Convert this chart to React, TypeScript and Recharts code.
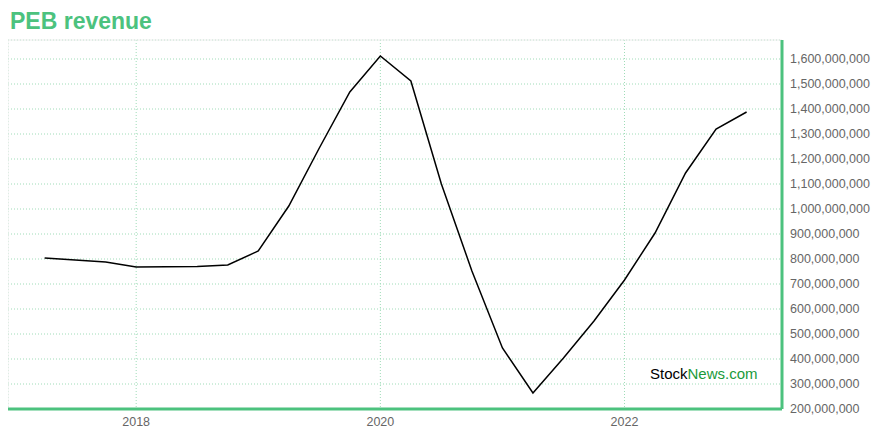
import React from 'react';
import { LineChart, Line, XAxis, YAxis, CartesianGrid, ReferenceArea } from 'recharts';

// quarter ends, as fractional years
const quarters = [
  2017.25, 2017.75, 2018.0, 2018.25, 2018.5, 2018.75, 2019.0, 2019.25, 2019.5, 2019.75,
  2020.0, 2020.25, 2020.5, 2020.75, 2021.0, 2021.25, 2021.5, 2021.75, 2022.0, 2022.25,
  2022.5, 2022.75, 2023.0,
];
const revenue = [
  804e6, 788e6, 768e6, 769e6, 770e6, 776e6, 832e6, 1012e6, 1244e6, 1468e6,
  1612e6, 1512e6, 1100e6, 752e6, 444e6, 264e6, 404e6, 552e6, 716e6, 904e6,
  1144e6, 1320e6, 1388e6,
];
const yearTicks = [2018, 2020, 2022];
const valueTicks = [
  200e6, 300e6, 400e6, 500e6, 600e6, 700e6, 800e6, 900e6, 1000e6, 1100e6,
  1200e6, 1300e6, 1400e6, 1500e6, 1600e6,
];

const data = quarters.map((q, i) => ({ q, revenue: revenue[i] }));

const green = '#4cc27e';
const fmt = (v: number) => v.toLocaleString('en-US');

export default function App() {
  return (
    <div style={{ position: 'relative', width: 872, height: 424, fontFamily: 'Liberation Sans, Arial, sans-serif' }}>
      <div style={{ position: 'absolute', left: 2, top: 0, fontSize: 23, fontWeight: 'bold', color: green }}>
        PEB revenue
      </div>
      <LineChart width={872} height={424} data={data} margin={{ top: 32, right: 7, left: 0, bottom: 0 }}>
        <ReferenceArea
          x1={2016.95}
          x2={2023.29}
          y1={200e6}
          y2={1676e6}
          fill="none"
          stroke="#eeeeee"
          strokeWidth={1}
          ifOverflow="visible"
        />
        <CartesianGrid stroke="#9fdcb8" strokeDasharray="1 2" />
        <XAxis
          dataKey="q"
          type="number"
          domain={[2016.95, 2023.29]}
          ticks={yearTicks}
          allowDataOverflow
          height={23}
          tickLine={false}
          axisLine={{ stroke: green, strokeWidth: 3 }}
          tick={{ fill: '#666', fontSize: 12.5 }}
          tickMargin={2}
        />
        <YAxis
          orientation="right"
          type="number"
          domain={[200e6, 1676e6]}
          ticks={valueTicks}
          allowDataOverflow
          width={91}
          tickLine={false}
          axisLine={{ stroke: green, strokeWidth: 3 }}
          tick={{ fill: '#666', fontSize: 12.5 }}
          tickFormatter={fmt}
        />
        <Line
          dataKey="revenue"
          stroke="#000"
          strokeWidth={1.5}
          dot={false}
          isAnimationActive={false}
        />
      </LineChart>
      <div style={{ position: 'absolute', left: 642, top: 357, fontSize: 15, color: '#000' }}>
        Stock<span style={{ color: '#1a9a3a' }}>News.com</span>
      </div>
    </div>
  );
}
